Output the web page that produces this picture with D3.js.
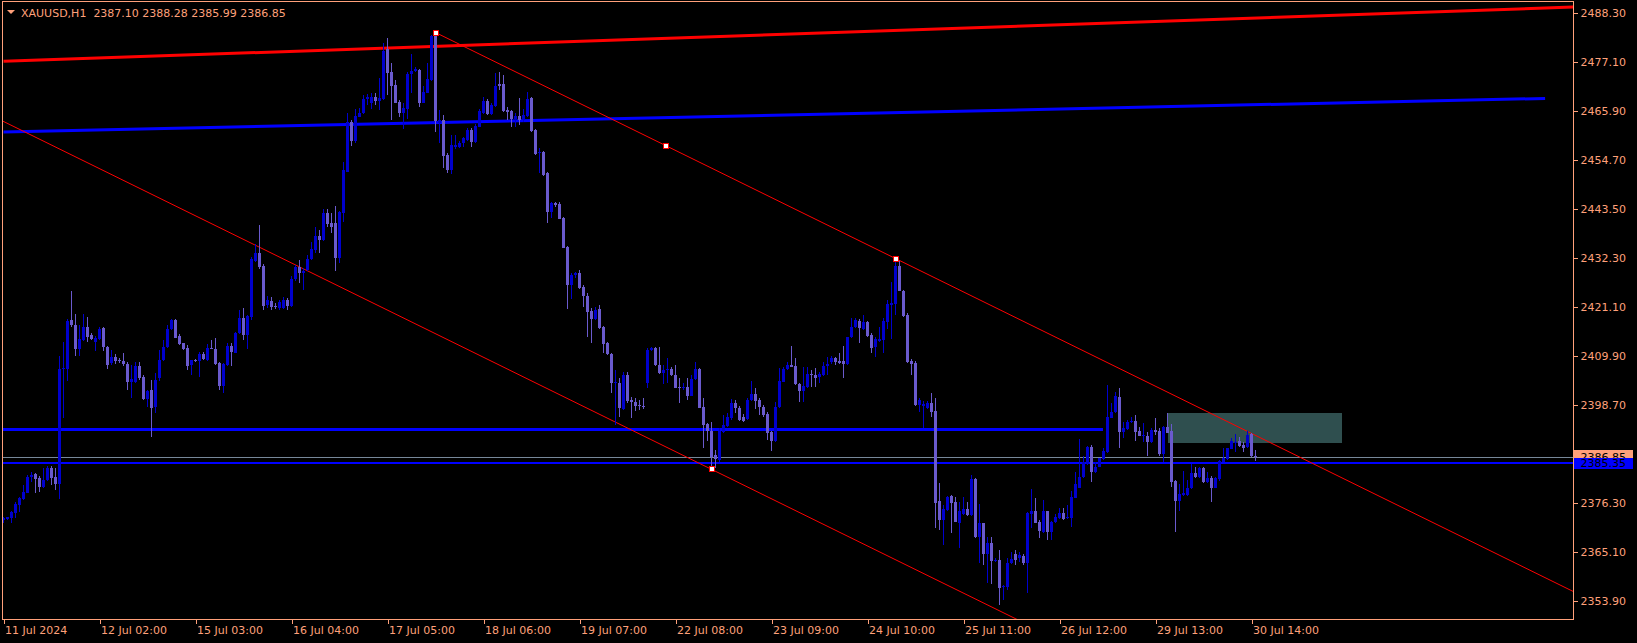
<!DOCTYPE html>
<html><head><meta charset="utf-8">
<script src="https://cdn.jsdelivr.net/npm/d3@7"></script>
<style>html,body{margin:0;padding:0;background:#000;overflow:hidden}</style>
</head><body>
<script>
// ---- data (XAUUSD H1, bar index 0 = 11 Jul 2024) ----
const OPEN = [
2372.40,2372.56,2372.93,2374.07,2375.90,2377.13,2378.64,2382.16,2383.02,2382.00,
2380.01,2381.54,2384.28,2382.30,2380.63,2406.82,2406.89,2418.08,2416.94,2411.53,
2413.51,2416.55,2414.65,2413.12,2413.74,2416.18,2411.98,2408.19,2409.70,2409.01,
2408.72,2408.03,2403.99,2403.92,2407.57,2405.13,2400.04,2402.09,2398.28,2404.90,
2408.94,2411.85,2415.95,2418.08,2414.43,2412.76,2411.76,2407.73,2408.94,2408.72,
2410.25,2408.94,2411.76,2411.46,2408.26,2403.08,2407.80,2412.14,2410.61,2415.04,
2418.60,2414.65,2418.70,2431.62,2433.45,2430.41,2421.50,2422.42,2421.35,2420.89,
2420.89,2422.65,2421.35,2427.37,2430.11,2428.74,2429.50,2431.94,2434.07,2437.26,
2436.35,2442.45,2440.30,2440.16,2432.31,2442.58,2451.95,2463.23,2459.02,2464.51,
2465.28,2468.55,2467.70,2468.94,2468.16,2468.55,2479.90,2474.71,2471.74,2467.86,
2465.42,2466.19,2474.19,2474.94,2475.17,2467.70,2469.99,2472.89,2483.39,2463.00,
2463.75,2455.76,2452.33,2457.65,2457.65,2458.43,2459.18,2461.47,2458.80,2462.22,
2465.28,2468.09,2465.12,2467.02,2471.97,2471.97,2466.03,2465.87,2463.98,2464.67,
2463.75,2464.67,2468.71,2461.47,2456.15,2456.44,2451.65,2442.81,2444.87,2444.57,
2441.37,2434.68,2426.07,2428.36,2428.74,2425.68,2423.63,2420.13,2418.31,2420.52,
2416.41,2412.76,2410.25,2403.62,2403.62,2397.76,2405.52,2399.81,2399.42,2398.67,
2398.51,2403.76,2411.23,2411.62,2407.80,2406.05,2406.66,2406.82,2405.52,2402.85,
2402.48,2402.85,2400.79,2404.60,2406.89,2398.28,2394.33,2392.73,2387.25,2386.11,
2392.57,2393.87,2395.77,2399.06,2397.91,2396.00,2395.47,2399.81,2401.11,2399.81,
2398.28,2396.54,2392.43,2390.51,2398.14,2403.99,2406.82,2407.80,2407.64,2403.39,
2401.93,2402.85,2405.75,2405.52,2405.13,2405.52,2407.57,2408.42,2409.47,2408.72,
2408.72,2408.03,2414.13,2416.41,2417.92,2416.02,2417.69,2414.65,2411.85,2413.35,
2413.51,2417.69,2421.50,2421.66,2430.48,2424.77,2419.22,2408.79,2408.33,2398.67,
2398.50,2397.91,2399.06,2397.30,2376.75,2372.40,2374.69,2377.89,2376.45,2371.65,
2373.78,2374.85,2373.55,2381.70,2368.60,2371.65,2364.64,2367.09,2363.11,2363.27,
2357.04,2357.04,2362.66,2364.64,2363.66,2364.19,2362.66,2373.78,2374.46,2372.02,
2369.73,2374.46,2369.60,2371.88,2372.79,2373.94,2372.79,2372.79,2377.50,2379.78,
2382.30,2385.26,2389.14,2383.30,2384.58,2386.34,2387.87,2395.77,2397.00,2400.56,
2392.57,2393.19,2394.72,2395.01,2392.73,2391.52,2391.66,2390.29,2392.96,2392.73,
2387.41,2393.65,2392.73,2381.31,2376.81,2378.12,2378.12,2379.65,2383.21,2382.23,
2384.21,2381.16,2382.07,2379.78,2381.77,2385.72,2386.34,2388.62,2389.99,2390.45,
2389.53,2389.14,2391.98,2387.10];
const HIGH = [
2373.20,2373.20,2374.39,2376.58,2377.66,2380.40,2382.68,2383.37,2383.14,2382.46,
2384.21,2384.74,2384.74,2384.21,2409.86,2413.12,2418.31,2424.70,2419.45,2416.94,
2419.45,2418.76,2415.11,2414.43,2416.55,2416.55,2412.14,2411.23,2410.32,2409.40,
2410.47,2408.49,2407.80,2408.56,2408.42,2405.52,2402.09,2404.38,2405.91,2411.23,
2413.51,2416.94,2418.31,2418.20,2414.88,2412.89,2412.37,2408.94,2409.24,2410.77,
2410.84,2412.53,2413.51,2413.90,2408.49,2408.26,2412.76,2412.76,2415.41,2420.36,
2420.75,2419.22,2432.47,2435.44,2439.77,2430.87,2423.56,2423.40,2421.96,2422.65,
2423.33,2423.10,2428.13,2430.64,2431.78,2429.95,2432.92,2435.96,2439.25,2438.63,
2443.36,2443.36,2442.45,2444.11,2442.97,2454.09,2465.28,2463.75,2466.19,2466.42,
2469.46,2469.69,2469.85,2469.85,2473.27,2481.27,2482.41,2476.70,2472.89,2468.32,
2467.56,2474.78,2478.82,2475.92,2475.40,2471.51,2476.70,2483.16,2483.73,2466.03,
2464.89,2456.22,2460.33,2460.33,2459.02,2459.80,2461.85,2461.85,2462.84,2466.19,
2468.94,2468.48,2467.56,2474.42,2474.71,2474.03,2466.65,2466.03,2465.28,2468.71,
2466.19,2470.21,2468.94,2461.70,2457.29,2456.67,2451.88,2445.09,2445.09,2445.09,
2441.60,2434.98,2428.74,2429.11,2429.50,2426.07,2424.18,2420.75,2421.12,2421.50,
2416.71,2413.06,2410.54,2406.66,2404.77,2406.27,2406.27,2400.56,2400.34,2399.81,
2400.20,2411.62,2411.98,2411.98,2411.98,2407.80,2409.47,2407.41,2407.80,2404.77,
2403.62,2404.77,2405.52,2408.56,2407.05,2400.34,2394.49,2394.85,2388.39,2393.35,
2396.38,2396.77,2400.04,2399.81,2398.44,2396.61,2400.20,2404.22,2402.48,2400.27,
2398.67,2397.14,2392.73,2399.42,2407.05,2407.28,2408.56,2412.14,2409.33,2403.69,
2407.41,2407.41,2406.66,2407.05,2406.27,2408.56,2409.70,2409.93,2409.70,2410.47,
2412.14,2414.27,2418.54,2418.47,2418.24,2419.22,2417.92,2415.04,2414.27,2416.55,
2418.47,2422.65,2426.83,2432.12,2431.62,2424.93,2419.75,2409.06,2408.72,2400.27,
2399.50,2399.58,2401.34,2400.34,2380.93,2375.83,2377.89,2378.12,2377.73,2376.58,
2377.73,2376.58,2382.68,2381.93,2376.06,2371.79,2368.60,2368.46,2363.66,2365.55,
2357.56,2363.66,2365.17,2365.55,2365.10,2364.64,2374.30,2379.55,2377.50,2372.40,
2376.97,2374.53,2372.18,2373.71,2375.08,2375.22,2375.83,2379.03,2383.30,2390.90,
2387.09,2389.37,2389.53,2385.72,2386.63,2388.78,2403.24,2399.06,2401.57,2402.48,
2394.72,2395.24,2396.00,2396.38,2393.71,2394.49,2392.57,2393.35,2395.63,2393.48,
2393.94,2396.77,2394.26,2381.54,2380.56,2383.60,2381.54,2385.12,2384.58,2384.58,
2384.58,2383.44,2382.52,2382.30,2386.11,2388.78,2388.92,2391.20,2391.98,2391.43,
2390.29,2392.73,2392.20,2388.28];
const LOW = [
2371.72,2372.40,2371.65,2372.93,2374.23,2376.97,2378.57,2381.08,2378.50,2378.87,
2379.71,2381.31,2380.40,2379.25,2377.27,2395.77,2404.22,2416.48,2409.93,2409.93,
2413.28,2413.12,2413.51,2411.00,2413.51,2411.07,2406.89,2407.80,2408.03,2408.26,
2407.57,2402.16,2400.34,2403.76,2404.38,2399.81,2398.28,2391.43,2396.77,2404.08,
2408.72,2411.69,2415.79,2413.97,2412.37,2411.23,2406.66,2405.52,2408.49,2405.00,
2408.94,2408.72,2411.46,2407.80,2402.09,2401.34,2407.57,2407.57,2410.54,2414.88,
2413.51,2411.46,2418.08,2431.32,2429.66,2420.36,2420.82,2420.36,2420.59,2420.36,
2420.59,2420.36,2421.05,2426.98,2426.60,2424.93,2429.27,2431.78,2433.38,2433.45,
2436.12,2439.25,2437.88,2429.34,2431.03,2440.53,2451.88,2457.81,2458.43,2464.44,
2465.12,2467.25,2466.19,2467.18,2466.03,2468.32,2469.46,2463.75,2467.56,2464.51,
2461.70,2463.98,2469.85,2474.71,2466.65,2467.63,2469.92,2472.66,2461.08,2458.43,
2452.72,2451.72,2451.42,2457.06,2457.36,2457.65,2458.95,2457.52,2458.43,2462.04,
2465.12,2464.89,2464.89,2466.83,2470.60,2465.65,2463.75,2462.08,2462.22,2462.61,
2463.36,2464.44,2461.08,2455.76,2451.72,2450.96,2440.30,2441.30,2443.95,2441.07,
2434.45,2420.52,2422.81,2427.67,2425.16,2421.12,2414.27,2412.90,2418.08,2415.96,
2410.47,2410.09,2401.47,2394.10,2396.00,2397.53,2399.06,2395.63,2397.37,2397.53,
2397.76,2402.48,2411.00,2407.57,2405.68,2403.39,2403.62,2405.29,2402.48,2399.06,
2402.09,2399.81,2400.61,2404.38,2397.91,2388.78,2390.51,2383.98,2384.21,2385.65,
2392.20,2393.64,2395.24,2396.91,2395.01,2394.85,2395.24,2399.58,2397.68,2396.38,
2396.00,2390.67,2388.23,2390.29,2397.98,2403.92,2406.66,2407.34,2403.24,2399.42,
2399.42,2402.66,2402.85,2402.85,2403.76,2405.29,2405.52,2407.96,2407.80,2408.03,
2404.90,2407.80,2413.97,2416.25,2412.90,2415.79,2414.20,2410.61,2409.70,2413.12,
2410.61,2415.96,2413.67,2419.22,2424.70,2418.83,2408.19,2405.52,2398.44,2397.14,
2393.35,2397.76,2396.00,2370.51,2370.12,2366.70,2374.46,2369.33,2371.84,2365.94,
2373.55,2373.32,2373.32,2368.23,2362.66,2362.13,2358.09,2357.79,2362.82,2352.99,
2354.14,2356.42,2362.47,2362.13,2362.82,2362.13,2355.67,2370.51,2371.61,2368.23,
2369.55,2367.84,2367.84,2371.72,2372.63,2372.40,2372.63,2370.88,2377.32,2379.60,
2382.11,2385.08,2381.16,2383.14,2384.40,2386.18,2387.64,2395.59,2396.84,2388.78,
2391.07,2393.03,2394.56,2390.45,2391.48,2390.29,2387.09,2390.10,2391.82,2387.09,
2385.72,2392.16,2380.01,2369.74,2374.53,2377.89,2377.89,2379.49,2382.00,2382.00,
2380.97,2380.97,2376.58,2379.60,2381.31,2385.54,2386.22,2388.51,2387.96,2389.19,
2387.87,2388.96,2386.86,2385.99];
const CLOSE = [
2372.86,2373.02,2374.30,2376.13,2377.43,2378.80,2382.16,2382.75,2381.84,2380.01,
2381.54,2384.28,2382.00,2380.63,2406.82,2407.05,2417.85,2416.94,2411.53,2413.74,
2416.55,2414.27,2413.74,2414.04,2416.02,2411.98,2407.80,2409.70,2408.72,2408.65,
2408.03,2403.99,2404.54,2407.57,2404.77,2400.04,2401.87,2398.05,2404.38,2408.94,
2411.85,2416.02,2418.08,2413.97,2412.67,2411.53,2407.64,2408.94,2408.72,2410.25,
2409.17,2411.76,2411.62,2408.03,2403.01,2408.03,2412.14,2410.70,2415.04,2418.60,
2414.65,2419.06,2431.94,2433.31,2430.25,2421.28,2422.65,2421.12,2421.12,2422.19,
2422.65,2421.28,2427.44,2430.11,2428.74,2429.34,2432.08,2434.22,2437.26,2436.35,
2442.45,2440.00,2439.38,2432.31,2442.74,2452.33,2463.23,2459.02,2464.67,2465.28,
2468.55,2468.94,2468.94,2468.16,2468.71,2479.58,2474.55,2471.58,2467.70,2465.42,
2466.42,2474.26,2475.01,2475.33,2467.70,2470.21,2473.05,2482.93,2463.59,2463.75,
2455.53,2452.33,2458.04,2458.04,2458.57,2459.57,2461.47,2458.80,2462.38,2465.87,
2468.09,2465.12,2467.18,2471.58,2471.51,2465.87,2465.65,2463.91,2464.67,2463.75,
2464.89,2468.48,2461.24,2455.99,2456.44,2451.12,2442.81,2444.73,2444.27,2441.21,
2434.59,2426.07,2428.36,2428.74,2425.32,2423.56,2419.98,2418.31,2420.36,2416.18,
2412.60,2410.25,2403.76,2403.99,2397.91,2405.52,2399.58,2399.42,2398.51,2398.60,
2398.45,2411.23,2411.62,2407.80,2406.05,2406.66,2406.82,2405.52,2402.62,2402.48,
2402.85,2400.79,2404.60,2406.89,2398.05,2394.10,2392.73,2386.86,2386.27,2392.73,
2394.10,2396.00,2399.06,2397.91,2395.24,2395.01,2399.81,2401.11,2399.65,2398.28,
2396.38,2392.34,2390.51,2398.28,2404.15,2406.82,2407.80,2407.41,2403.39,2401.93,
2403.01,2405.75,2405.45,2404.90,2405.75,2407.57,2408.03,2409.47,2408.56,2408.19,
2408.03,2414.13,2416.41,2418.08,2416.18,2417.55,2414.43,2411.76,2413.67,2413.74,
2417.92,2421.73,2421.89,2430.48,2424.77,2418.99,2408.56,2408.03,2398.67,2399.81,
2398.85,2399.06,2397.14,2376.22,2372.40,2374.92,2377.73,2376.22,2372.02,2374.53,
2374.85,2373.55,2381.70,2368.60,2371.65,2364.64,2367.09,2363.11,2363.27,2356.95,
2357.40,2362.66,2363.50,2363.27,2364.41,2362.66,2373.94,2374.46,2371.79,2369.89,
2374.46,2369.60,2371.88,2373.02,2373.94,2372.63,2373.02,2377.66,2380.63,2382.30,
2385.72,2389.14,2383.44,2384.58,2386.49,2388.23,2396.00,2397.00,2400.72,2392.57,
2393.48,2394.86,2395.01,2392.57,2391.66,2391.82,2390.29,2392.96,2392.57,2387.48,
2393.65,2392.20,2381.16,2376.81,2378.35,2378.50,2379.65,2383.21,2382.16,2384.21,
2381.16,2381.93,2379.78,2381.93,2385.88,2386.49,2388.78,2390.45,2390.29,2389.37,
2388.92,2391.82,2387.09,2386.85];

const TICK_BARS = [0,24,48,72,96,120,144,168,192,216,240,264,288,312];
const TICK_LABELS = ["11 Jul 2024","12 Jul 02:00","15 Jul 03:00","16 Jul 04:00","17 Jul 05:00",
  "18 Jul 06:00","19 Jul 07:00","22 Jul 08:00","23 Jul 09:00","24 Jul 10:00","25 Jul 11:00",
  "26 Jul 12:00","29 Jul 13:00","30 Jul 14:00"];
const PRICE_TICKS = [2488.30,2477.10,2465.90,2454.70,2443.50,2432.30,2421.10,2409.90,2398.70,2376.30,2365.10,2353.90];
const SYMBOL = "XAUUSD,H1";

// drawn objects, in (bar index, price)
const RED_TREND = [[0, 2477.15], [392.4, 2489.55]];
const BLUE_TREND = [[0, 2461.01], [385.4, 2468.68]];
const CHANNEL_A = [108, 2483.73], CHANNEL_B = [223, 2432.12], CHANNEL_C = [177, 2383.98];
const H_LEVEL = {from: -1, to: 274.95, price: 2393.12};
const ZONE = {from: 291, to: 334.5, top: 2396.84, bottom: 2390.06};
const BID = 2386.85, LINE_LEVEL = 2385.35;

// ---- drawing ----
const W = 1637, H = 643;
const L = 2.5, T = 1.5, R = 1573.5, B = 619.5;
const AX = "#FFA07A", BULL = "#0000CD", BEAR = "#6A5ACD";
const x = d3.scaleLinear().domain([0, 100]).range([3.5, 403.5]);
const y = d3.scaleLinear().domain([2353.90, 2488.30]).range([601.04, 12.5]);
const font = "'DejaVu Sans', sans-serif";

const svg = d3.select("body").append("svg").attr("width", W).attr("height", H)
  .style("display", "block").style("background", "#000");
const defs = svg.append("defs");
defs.append("clipPath").attr("id", "plot")
  .append("rect").attr("x", 3).attr("y", 2).attr("width", R - 3.5).attr("height", B - 2.5);

const g = svg.append("g").attr("clip-path", "url(#plot)");
const iMax = x.invert(R);

// zone rectangle
g.append("rect").attr("x", x(ZONE.from)).attr("y", y(ZONE.top))
  .attr("width", x(ZONE.to) - x(ZONE.from)).attr("height", y(ZONE.bottom) - y(ZONE.top))
  .attr("fill", "#2F4F4F").attr("shape-rendering", "crispEdges");

// horizontal lines
g.append("line").attr("x1", L).attr("x2", R).attr("y1", Math.round(y(BID)) + 0.5).attr("y2", Math.round(y(BID)) + 0.5)
  .attr("stroke", "#778899").attr("stroke-width", 1).attr("shape-rendering", "crispEdges");
g.append("line").attr("x1", L).attr("x2", R).attr("y1", Math.round(y(LINE_LEVEL))).attr("y2", Math.round(y(LINE_LEVEL)))
  .attr("stroke", "#0000FF").attr("stroke-width", 2).attr("shape-rendering", "crispEdges");
g.append("line").attr("x1", x(H_LEVEL.from)).attr("x2", x(H_LEVEL.to))
  .attr("y1", Math.round(y(H_LEVEL.price)) + 0.5).attr("y2", Math.round(y(H_LEVEL.price)) + 0.5)
  .attr("stroke", "#0000FF").attr("stroke-width", 3).attr("shape-rendering", "crispEdges");

// trend lines
function seg(p1, p2, color, w) {
  g.append("line").attr("x1", x(p1[0])).attr("y1", y(p1[1])).attr("x2", x(p2[0])).attr("y2", y(p2[1]))
    .attr("stroke", color).attr("stroke-width", w);
}
seg(RED_TREND[0], RED_TREND[1], "#FF0000", 3);
seg(BLUE_TREND[0], BLUE_TREND[1], "#0000FF", 3);
const slope = (CHANNEL_B[1] - CHANNEL_A[1]) / (CHANNEL_B[0] - CHANNEL_A[0]);
seg(CHANNEL_A, [iMax, CHANNEL_A[1] + slope * (iMax - CHANNEL_A[0])], "#FF0000", 1);
seg([-2, CHANNEL_C[1] + slope * (-2 - CHANNEL_C[0])], [iMax, CHANNEL_C[1] + slope * (iMax - CHANNEL_C[0])], "#FF0000", 1);

// candles
const idx = d3.range(OPEN.length);
const cg = g.append("g").attr("shape-rendering", "crispEdges");
cg.selectAll("line.wick").data(idx).join("line").attr("class", "wick")
  .attr("x1", i => x(i)).attr("x2", i => x(i))
  .attr("y1", i => y(HIGH[i])).attr("y2", i => y(LOW[i]))
  .attr("stroke", i => CLOSE[i] >= OPEN[i] ? BULL : BEAR).attr("stroke-width", 1);
cg.selectAll("rect.body").data(idx).join("rect").attr("class", "body")
  .attr("x", i => x(i) - 1.5).attr("width", 3)
  .attr("y", i => Math.min(y(OPEN[i]), y(CLOSE[i])))
  .attr("height", i => Math.max(1, Math.abs(y(OPEN[i]) - y(CLOSE[i]))))
  .attr("fill", i => CLOSE[i] >= OPEN[i] ? BULL : BEAR);

// anchor markers
const mid = [(CHANNEL_A[0] + CHANNEL_B[0]) / 2, (CHANNEL_A[1] + CHANNEL_B[1]) / 2];
svg.selectAll("rect.anchor").data([CHANNEL_A, mid, CHANNEL_B, CHANNEL_C]).join("rect").attr("class", "anchor")
  .attr("x", d => Math.round(x(d[0])) - 2.5).attr("y", d => Math.round(y(d[1])) - 2.5)
  .attr("width", 5).attr("height", 5).attr("fill", "#fff").attr("stroke", "#FF0000").attr("stroke-width", 1)
  .attr("shape-rendering", "crispEdges");

// frame
svg.append("rect").attr("x", L).attr("y", T).attr("width", R - L).attr("height", B - T)
  .attr("fill", "none").attr("stroke", AX).attr("stroke-width", 1).attr("shape-rendering", "crispEdges");

// price axis
const ya = svg.append("g").attr("transform", `translate(${R},0)`)
  .call(d3.axisRight(y).tickValues(PRICE_TICKS).tickFormat(d3.format(".2f")).tickSize(4).tickPadding(3));
ya.select(".domain").remove();
ya.selectAll("line").attr("stroke", AX).attr("shape-rendering", "crispEdges");
ya.selectAll("text").attr("fill", AX).style("font-family", font).style("font-size", "11px");

// time axis
const xa = svg.append("g").attr("transform", `translate(0,${B})`)
  .call(d3.axisBottom(x).tickValues(TICK_BARS).tickFormat((d, k) => TICK_LABELS[k]).tickSize(4).tickPadding(3));
xa.select(".domain").remove();
xa.selectAll("line").attr("stroke", AX).attr("shape-rendering", "crispEdges");
xa.selectAll("text").attr("fill", AX).attr("text-anchor", "start").attr("x", 1)
  .style("font-family", font).style("font-size", "11px");

// price boxes (bid box partly hidden under the level box, as in MetaTrader)
function box(price, bg, y0, h, id) {
  defs.append("clipPath").attr("id", id).append("rect")
    .attr("x", 1574).attr("y", y0).attr("width", 59).attr("height", h);
  svg.append("rect").attr("x", 1574).attr("y", y0).attr("width", 59).attr("height", h).attr("fill", bg);
  svg.append("text").attr("clip-path", `url(#${id})`).attr("x", 1580.5).attr("y", y(price)).attr("dy", "0.36em")
    .text(price.toFixed(2))
    .attr("fill", "#000").style("font-family", font).style("font-size", "11px");
}
const bidTop = Math.round(y(BID)) - 7, lvlTop = Math.round(y(LINE_LEVEL)) - 5;
box(BID, AX, bidTop, lvlTop - bidTop, "clipBid");
box(LINE_LEVEL, "#0000FF", lvlTop, 11, "clipLvl");

// title
const last = OPEN.length - 1;
svg.append("path").attr("d", "M7,10 L15,10 L11,14 Z").attr("fill", AX);
svg.append("text").attr("x", 21).attr("y", 17)
  .text(`${SYMBOL}  ${OPEN[last].toFixed(2)} ${HIGH[last].toFixed(2)} ${LOW[last].toFixed(2)} ${CLOSE[last].toFixed(2)}`)
  .attr("fill", AX).style("font-family", font).style("font-size", "11px").style("white-space", "pre")
  .attr("xml:space", "preserve");
</script>
</body></html>
